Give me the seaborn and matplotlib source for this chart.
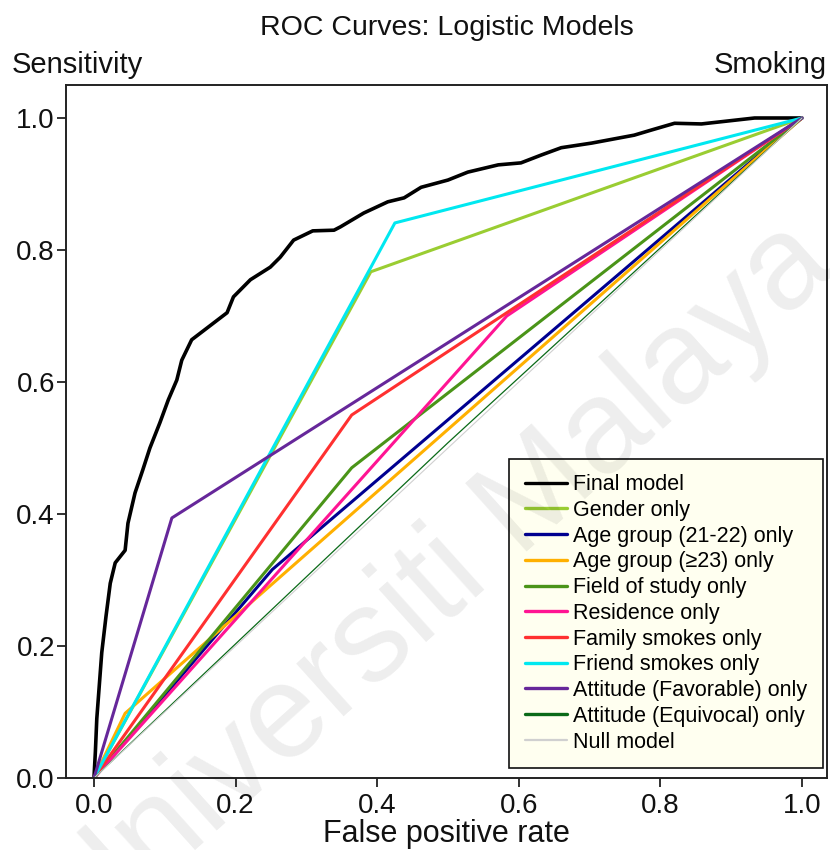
import numpy as np
import pandas as pd
import matplotlib
matplotlib.use("Agg")
import matplotlib.pyplot as plt
import seaborn as sns

# ROC curve coordinates (false positive rate, sensitivity) per model
final_fpr = [0.0, 0.002, 0.004, 0.011, 0.017, 0.023, 0.030, 0.044, 0.048, 0.058,
             0.069, 0.079, 0.093, 0.105, 0.117, 0.124, 0.138, 0.188, 0.197, 0.221,
             0.249, 0.263, 0.282, 0.309, 0.339, 0.348, 0.381, 0.415, 0.438, 0.462,
             0.500, 0.528, 0.571, 0.603, 0.632, 0.660, 0.703, 0.763, 0.788, 0.820,
             0.858, 0.933, 1.0]
final_sens = [0.0, 0.040, 0.090, 0.190, 0.245, 0.295, 0.326, 0.345, 0.386, 0.432,
              0.467, 0.500, 0.538, 0.573, 0.603, 0.633, 0.664, 0.705, 0.729, 0.755,
              0.774, 0.789, 0.815, 0.829, 0.830, 0.835, 0.856, 0.873, 0.879, 0.895,
              0.906, 0.918, 0.929, 0.932, 0.944, 0.955, 0.962, 0.974, 0.982, 0.992,
              0.991, 1.0, 1.0]

gender_fpr = [0.0, 0.391, 1.0]
gender_sens = [0.0, 0.767, 1.0]

age2122_fpr = [0.0, 0.252, 1.0]
age2122_sens = [0.0, 0.316, 1.0]

age23_fpr = [0.0, 0.044, 1.0]
age23_sens = [0.0, 0.098, 1.0]

field_fpr = [0.0, 0.364, 1.0]
field_sens = [0.0, 0.470, 1.0]

residence_fpr = [0.0, 0.583, 1.0]
residence_sens = [0.0, 0.700, 1.0]

family_fpr = [0.0, 0.364, 1.0]
family_sens = [0.0, 0.550, 1.0]

friend_fpr = [0.0, 0.425, 1.0]
friend_sens = [0.0, 0.841, 1.0]

favorable_fpr = [0.0, 0.110, 1.0]
favorable_sens = [0.0, 0.394, 1.0]

equivocal_fpr = [0.0, 0.500, 1.0]
equivocal_sens = [0.0, 0.508, 1.0]

null_fpr = [0.0, 1.0]
null_sens = [0.0, 1.0]

labels = ["Final model", "Gender only", "Age group (21-22) only",
          "Age group (\u226523) only", "Field of study only", "Residence only",
          "Family smokes only", "Friend smokes only",
          "Attitude (Favorable) only", "Attitude (Equivocal) only", "Null model"]
colors = ["#000000", "#9ACD32", "#000090", "#FFB000", "#4A9418", "#FF1493",
          "#FF3030", "#00E8F0", "#66279A", "#0A6A18", "#D0D0D0"]
widths = [2.6, 2.2, 2.2, 2.2, 2.2, 2.2, 2.2, 2.2, 2.2, 0.9, 0.8]

series = [(final_fpr, final_sens), (gender_fpr, gender_sens),
          (age2122_fpr, age2122_sens), (age23_fpr, age23_sens),
          (field_fpr, field_sens), (residence_fpr, residence_sens),
          (family_fpr, family_sens), (friend_fpr, friend_sens),
          (favorable_fpr, favorable_sens), (equivocal_fpr, equivocal_sens),
          (null_fpr, null_sens)]

sns.set_theme(style="white")
plt.rcParams["font.family"] = ["Liberation Sans", "DejaVu Sans"]

fig = plt.figure(figsize=(8.3, 8.5), dpi=100)
W, H = 830, 850
ax = fig.add_axes([66 / W, 1 - 778 / H, (827 - 66) / W, (778 - 85) / H])
ax.patch.set_alpha(0)

for (fx, sy), lab, col, lw in zip(series, labels, colors, widths):
    df = pd.DataFrame({"fpr": fx, "sens": sy})
    sns.lineplot(data=df, x="fpr", y="sens", ax=ax, color=col, lw=lw,
                 label=lab, sort=False, estimator=None)

ax.set_xlim(-0.0395, 1.0353)
ax.set_ylim(0, 1.05)
ticks = [0.0, 0.2, 0.4, 0.6, 0.8, 1.0]
ax.set_xticks(ticks)
ax.set_yticks(ticks)
ax.set_xticklabels([f"{t:.1f}" for t in ticks])
ax.set_yticklabels([f"{t:.1f}" for t in ticks])
ax.tick_params(axis="both", which="major", direction="out", length=6.5,
               width=1.3, color="#222222", labelsize=20, labelcolor="#111111",
               bottom=True, left=True)
ax.tick_params(axis="x", pad=4.5)
ax.tick_params(axis="y", pad=1.5)
for sp in ax.spines.values():
    sp.set_visible(True)
    sp.set_color("#222222")
    sp.set_linewidth(1.4)

ax.set_xlabel("False positive rate", fontsize=22, color="#111111")
ax.set_ylabel("")
ax.xaxis.label.set_va("baseline")
ax.xaxis.set_label_coords(0.5, (778 - 842) / 693)

fig.text(446.5 / W, 1 - 35 / H, "ROC Curves: Logistic Models", fontsize=20.5,
         ha="center", va="baseline", color="#111111")
fig.text(12 / W, 1 - 73 / H, "Sensitivity", fontsize=21, ha="left",
         va="baseline", color="#111111")
fig.text(827 / W, 1 - 73 / H, "Smoking", fontsize=21, ha="right",
         va="baseline", color="#111111")

leg = ax.legend(loc="lower right", bbox_to_anchor=((823 - 66) / 761, (778 - 768) / 693),
                borderaxespad=0, fontsize=15.5, frameon=True, fancybox=False,
                facecolor="#FFFFF0", edgecolor="#111111", framealpha=1,
                handlelength=1.95, handletextpad=0.3, labelspacing=0.22,
                borderpad=0.72)
leg.get_frame().set_linewidth(1.2)
for text in leg.get_texts():
    text.set_color("#000000")
for line in leg.get_lines()[:10]:
    line.set_linewidth(2.4)
leg.get_lines()[10].set_linewidth(1.6)

# faint repository watermark across the page
fig.text(438 / W, 1 - 585 / H, "Universiti Malaya", fontsize=96, rotation=42,
         ha="center", va="center", color="black", alpha=0.07, zorder=10)

fig.savefig("out.png", dpi=100)
